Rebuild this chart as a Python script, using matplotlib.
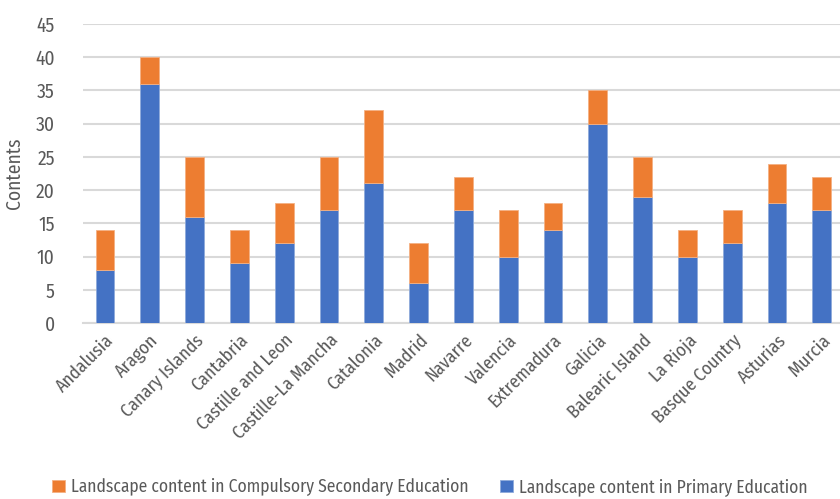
import matplotlib.pyplot as plt
from matplotlib import font_manager

regions = ["Andalusia", "Aragon", "Canary Islands", "Cantabria", "Castille and Leon",
           "Castille-La Mancha", "Catalonia", "Madrid", "Navarre", "Valencia",
           "Extremadura", "Galicia", "Balearic Island", "La Rioja", "Basque Country",
           "Asturias", "Murcia"]
primary = [8, 36, 16, 9, 12, 17, 21, 6, 17, 10, 14, 30, 19, 10, 12, 18, 17]
secondary = [6, 4, 9, 5, 6, 8, 11, 6, 5, 7, 4, 5, 6, 4, 5, 6, 5]
yticks = [0, 5, 10, 15, 20, 25, 30, 35, 40, 45]

names = {f.name for f in font_manager.fontManager.ttflist}
font = "Fira Sans Condensed" if "Fira Sans Condensed" in names else "DejaVu Sans"
plt.rcParams['font.family'] = [font, 'DejaVu Sans']
plt.rcParams['font.weight'] = 'normal'

grey = "#595959"
blue = "#4472c4"
orange = "#ed7d31"

fig = plt.figure(figsize=(8.4, 4.99), dpi=100)
ax = fig.add_axes([0.0983, 0.3527, 0.9067, 0.5992])

x = range(len(regions))
b1 = ax.bar(x, primary, width=0.42, color=blue, edgecolor="#8eaadb", linewidth=0.6, zorder=3,
            label="Landscape content in Primary Education")
b2 = ax.bar(x, secondary, bottom=primary, width=0.42, color=orange, edgecolor="#f4b183",
            linewidth=0.6, zorder=3,
            label="Landscape content in Compulsory Secondary Education")

ax.set_xlim(-0.5, len(regions) - 0.5)
ax.set_ylim(0, 45)
ax.set_yticks(yticks)
ax.yaxis.grid(True, color="#d9d9d9", linewidth=1.5, zorder=0)
for s in ["top", "right", "left"]:
    ax.spines[s].set_visible(False)
ax.spines["bottom"].set_color("#d9d9d9")
ax.spines["bottom"].set_linewidth(1.5)
ax.tick_params(axis="both", length=0, colors=grey, labelcolor=grey)
ax.tick_params(axis="y", pad=20, labelsize=14)
ax.tick_params(axis="x", pad=6)
ax.set_xticks(list(x))
ax.set_xticklabels(regions, rotation=45, ha="right", rotation_mode="anchor", fontsize=13,
                   color=grey)
ax.set_ylabel("Contents", color=grey, fontsize=14, labelpad=8, fontweight="normal")

# two separate legend entries, placed like the original
for handle, xpos in [(b2, 52 / 840), (b1, 500 / 840)]:
    fig.legend([handle], [handle.get_label()], loc="lower left",
               bbox_to_anchor=(xpos, 0.006), frameon=False, fontsize=12.6,
               labelcolor=grey, handlelength=0.75, handleheight=0.75, handletextpad=0.35,
               borderpad=0, borderaxespad=0)

fig.savefig("out.png", dpi=100)
